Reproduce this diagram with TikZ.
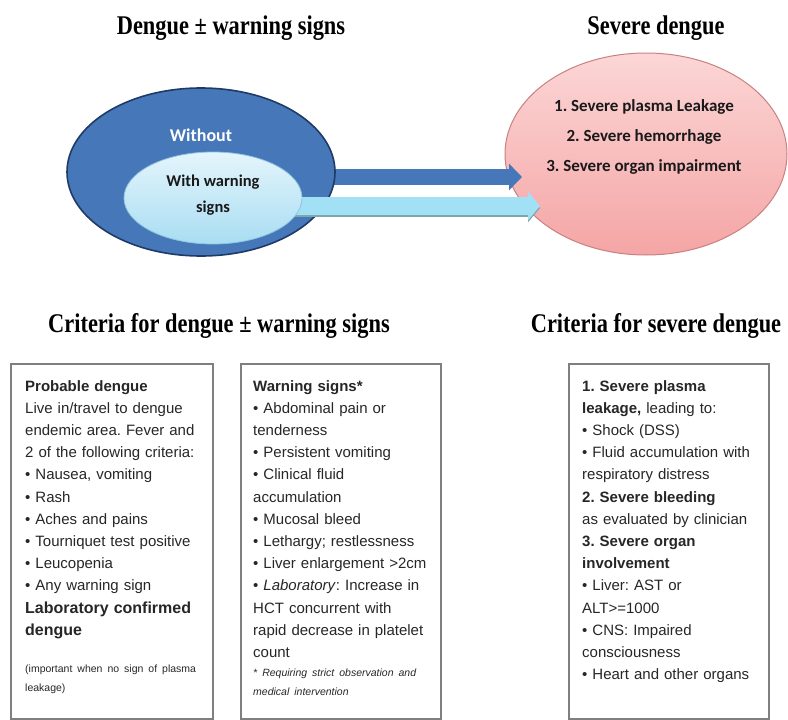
\documentclass[tikz,border=0pt]{standalone}
\usepackage{fontspec}
\setmainfont{Liberation Serif}
\newfontfamily\arialf{Liberation Sans}
\newfontfamily\calf{Carlito}
\usetikzlibrary{shapes.geometric,arrows.meta}
\definecolor{outerblue}{HTML}{4677B8}
\definecolor{navy}{HTML}{1F3A66}
\definecolor{innerlight}{HTML}{E4F5FC}
\definecolor{innerdark}{HTML}{A9DDF2}
\definecolor{inneredge}{HTML}{8CC4E0}
\definecolor{pinklight}{HTML}{FCD6D6}
\definecolor{pinkdark}{HTML}{F5A5A5}
\definecolor{pinkedge}{HTML}{C98080}
\definecolor{lightarrow}{HTML}{A2E0F6}
\definecolor{arrowshadow}{HTML}{7FA6A8}
\definecolor{boxgrey}{HTML}{7F7F7F}
\definecolor{txt}{HTML}{262626}
\newcommand\ttlsq[1]{\scalebox{0.83}[1]{#1}}
\frenchspacing
\begin{document}
\begin{tikzpicture}[x=1pt,y=-1pt,
  titletext/.style={font=\bfseries\fontsize{27}{30}\selectfont, text=black, inner sep=0},
  ovaltext/.style={font=\calf\bfseries\fontsize{16.5}{26}\selectfont, align=center, inner sep=0},
  critbox/.style={draw=boxgrey, line width=1.8pt, anchor=north west, inner sep=0, minimum width=200pt, minimum height=355pt},
  bodytext/.style={font=\arialf\fontsize{15}{22.2}\selectfont, text=txt, align=left, text width=190pt, inner sep=0, anchor=north west},
  darkbar/.style={line width=16pt, outerblue, -{Triangle[width=26pt,length=13pt]}},
  lightbar/.style={line width=18pt, lightarrow, -{Triangle[width=28pt,length=12pt]}},
  shadowbar/.style={line width=18pt, arrowshadow, -{Triangle[width=28pt,length=12pt]}}
]
\useasboundingbox (0,0) rectangle (788,720);

% titles
\node[titletext] (t1) at (231,28) {\ttlsq{Dengue ± warning signs}};
\node[titletext] (t2) at (656,28) {\ttlsq{Severe dengue}};
\node[titletext] (t3) at (219,326) {\ttlsq{Criteria for dengue ± warning signs}};
\node[titletext] (t4) at (656,326) {\ttlsq{Criteria for severe dengue}};

% severe dengue oval
\node[ellipse, draw=pinkedge, line width=1pt, top color=pinklight, bottom color=pinkdark,
      minimum width=282pt, minimum height=202pt, inner sep=0] (severe) at (646,154) {};
\node[ovaltext, font=\calf\bfseries\fontsize{17}{30}\selectfont, text=black!90] (sevtext) at (644,137)
  {1. Severe plasma Leakage\\2. Severe hemorrhage\\3. Severe organ impairment};

% dark arrow
\coordinate (ostart) at (201,177);
\coordinate (dtip) at (522,177);
\draw[darkbar] (ostart) -- (dtip);

% outer oval
\node[ellipse, draw=navy, line width=1.6pt, fill=outerblue,
      minimum width=268pt, minimum height=168pt, inner sep=0] (outer) at (201,172) {};
\node[ovaltext, text=white, font=\calf\bfseries\fontsize{18}{26}\selectfont] (wo) at (201,135) {Without};

% light arrow
\coordinate (istart) at (213,206);
\coordinate (ltip) at (540,206);
\coordinate (istart2) at (213,208);
\coordinate (ltip2) at (540,208);
\draw[shadowbar] (istart2) -- (ltip2);
\draw[lightbar] (istart) -- (ltip);

% inner oval
\node[ellipse, draw=inneredge, line width=0.8pt, top color=innerlight, bottom color=innerdark,
      minimum width=178pt, minimum height=92pt, inner sep=0] (inner) at (213,198) {};
\node[ovaltext, text=black!90] (ws) at (213,195) {With warning\\signs};

% criteria boxes
\node[critbox, minimum width=202pt] (box1) at (10,363) {};
\node[critbox] (box2) at (240,363) {};
\node[critbox] (box3) at (568,363) {};

\node[bodytext] (b1) at ([xshift=15pt,yshift=-17pt]box1.north west) {%
\textbf{Probable dengue}\\
Live in/travel to dengue\\
endemic area. Fever and\\
2 of the following criteria:\\
• Nausea, vomiting\\
• Rash\\
• Aches and pains\\
• Tourniquet test positive\\
• Leucopenia\\
• Any warning sign\\
{\fontsize{16}{22}\selectfont\textbf{Laboratory confirmed}}\\
{\fontsize{16}{22}\selectfont\textbf{dengue}}\\[15pt]
{\fontsize{10.5}{19}\selectfont (important when no sign of plasma}\\[-3pt]
{\fontsize{10.5}{19}\selectfont leakage)}};

\node[bodytext] (b2) at ([xshift=13pt,yshift=-17pt]box2.north west) {%
\textbf{Warning signs*}\\
• Abdominal pain or\\
tenderness\\
• Persistent vomiting\\
• Clinical fluid\\
accumulation\\
• Mucosal bleed\\
• Lethargy; restlessness\\
• Liver enlargement >2cm\\
• \textit{Laboratory}: Increase in\\
HCT concurrent with\\
rapid decrease in platelet\\
count\\[-3pt]
{\fontsize{10.5}{19}\selectfont\itshape * Requiring strict observation and}\\[-3pt]
{\fontsize{10.5}{19}\selectfont\itshape medical intervention}};

\node[bodytext] (b3) at ([xshift=14pt,yshift=-17pt]box3.north west) {%
\textbf{1. Severe plasma}\\
\textbf{leakage,} leading to:\\
• Shock (DSS)\\
• Fluid accumulation with\\
respiratory distress\\
\textbf{2. Severe bleeding}\\
as evaluated by clinician\\
\textbf{3. Severe organ}\\
\textbf{involvement}\\
• Liver: AST or\\
ALT>=1000\\
• CNS: Impaired\\
consciousness\\
• Heart and other organs};
\end{tikzpicture}
\end{document}
